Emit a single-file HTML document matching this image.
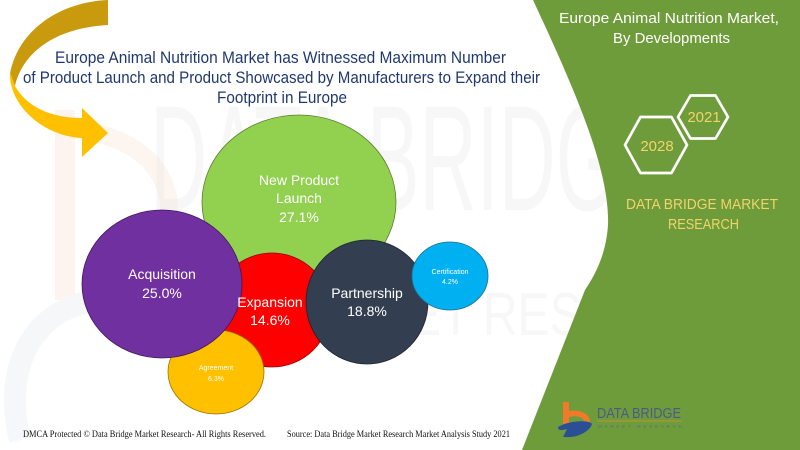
<!DOCTYPE html>
<html>
<head>
<meta charset="utf-8">
<style>
  html,body{margin:0;padding:0;background:#fff;}
  svg{display:block;}
  text{font-family:"Liberation Sans",sans-serif;}
</style>
</head>
<body>
<svg width="800" height="450" viewBox="0 0 800 450" xmlns="http://www.w3.org/2000/svg">
  <rect x="0" y="0" width="800" height="450" fill="#ffffff"/>

  <!-- faint watermark -->
  <g opacity="0.45">
    <path d="M55,110 L75,110 L75,300 L55,300 Z" fill="#fbe6dc"/>
    <path d="M75,130 C180,140 200,230 120,300" fill="none" stroke="#fbe9e0" stroke-width="18"/>
    <path d="M20,440 C0,360 40,300 110,300" fill="none" stroke="#e9eef3" stroke-width="22"/>
  </g>
  <g opacity="0.3">
    <text x="150" y="210" font-size="150" fill="#e6e6e6" textLength="520" lengthAdjust="spacingAndGlyphs">DATA BRIDGE</text>
    <text x="270" y="335" font-size="60" fill="#e8e8e8" textLength="480" lengthAdjust="spacingAndGlyphs">MARKET RESEARCH</text>
  </g>

  <!-- green right panel -->
  <path d="M533,0 C575,90 610,170 608,225 C606,255 595,275 585,290 L522,450 L800,450 L800,0 Z" fill="#6e9c3a"/>

  <!-- arrow -->
  <path d="M108,0 C60,2 18,30 10,74 L15,86 C22,55 52,28 108,25 Z" fill="#c99a0e"/>
  <path d="M10,72 C8,102 40,136 82,138 L82,157 L108,133 L82,108 L82,118 C50,118 26,106 15,86 Z" fill="#ffc000"/>

  <!-- title -->
  <g fill="#203870" font-size="17">
    <text x="55" y="63" textLength="451" lengthAdjust="spacingAndGlyphs">Europe Animal Nutrition Market has Witnessed Maximum Number</text>
    <text x="23" y="83" textLength="517" lengthAdjust="spacingAndGlyphs">of Product Launch and Product Showcased by Manufacturers to Expand their</text>
    <text x="217" y="103" textLength="130" lengthAdjust="spacingAndGlyphs">Footprint in Europe</text>
  </g>

  <!-- bubbles -->
  <ellipse cx="299" cy="202" rx="97" ry="87" fill="#92d050" stroke="#5b7f2e" stroke-width="0.8"/>
  <ellipse cx="272" cy="310" rx="58" ry="57" fill="#ff0000" stroke="#a00000" stroke-width="0.8"/>
  <ellipse cx="216" cy="372" rx="48" ry="42" fill="#ffc000" stroke="#9a7400" stroke-width="0.8"/>
  <ellipse cx="162" cy="284" rx="80" ry="74" fill="#7030a0" stroke="#40185e" stroke-width="0.8"/>
  <ellipse cx="367" cy="302" rx="61" ry="62" fill="#333f50" stroke="#1d2530" stroke-width="0.8"/>
  <ellipse cx="450" cy="276" rx="38" ry="34" fill="#00b0f0" stroke="#1d6f8e" stroke-width="0.8"/>

  <g fill="#ffffff" text-anchor="middle">
    <text x="299" y="185" font-size="14">New Product</text>
    <text x="299" y="203" font-size="14">Launch</text>
    <text x="299" y="222" font-size="14">27.1%</text>
    <text x="162" y="279" font-size="14">Acquisition</text>
    <text x="162" y="298" font-size="14">25.0%</text>
    <text x="270" y="307" font-size="14">Expansion</text>
    <text x="270" y="325" font-size="14">14.6%</text>
    <text x="367" y="298" font-size="14">Partnership</text>
    <text x="367" y="316" font-size="14">18.8%</text>
    <text x="450" y="274" font-size="7">Certification</text>
    <text x="450" y="284" font-size="7">4.2%</text>
    <text x="216" y="370" font-size="7">Agreement</text>
    <text x="216" y="381" font-size="7">6.3%</text>
  </g>

  <!-- right panel text -->
  <g fill="#ffffff" font-size="15">
    <text x="559" y="23" textLength="220" lengthAdjust="spacingAndGlyphs">Europe Animal Nutrition Market,</text>
    <text x="613" y="43" textLength="117" lengthAdjust="spacingAndGlyphs">By Developments</text>
  </g>

  <polygon points="678,117 690.5,95.5 715.5,95.5 728,117 715.5,138.5 690.5,138.5" fill="none" stroke="#ffffff" stroke-width="2.7" stroke-linejoin="round"/>
  <polygon points="625,145 640.5,117 671.5,117 687,145 671.5,173 640.5,173" fill="none" stroke="#ffffff" stroke-width="2.7" stroke-linejoin="round"/>
  <g fill="#f2d36b" font-size="15" text-anchor="middle">
    <text x="704" y="122">2021</text>
    <text x="657" y="151">2028</text>
  </g>
  <g fill="#f2d36b" font-size="15">
    <text x="626" y="209" textLength="152" lengthAdjust="spacingAndGlyphs">DATA BRIDGE MARKET</text>
    <text x="668" y="229" textLength="71" lengthAdjust="spacingAndGlyphs">RESEARCH</text>
  </g>

  <!-- logo -->
  <path d="M563,402 L569,402 L569,411 C580,409 590,414 590,422 L584,422 C584,417 577,415 569,417 L569,424 L563,424 Z" fill="#f07a2a"/>
  <path d="M558,427 C570,420 590,420 592,424 C590,431 578,438 566,437 L563,437 L567,429 C560,431 558,430 558,427 Z" fill="#2a4f96"/>
  <text x="597" y="418" font-size="15" fill="#4b5a8a" textLength="84" lengthAdjust="spacingAndGlyphs">DATA BRIDGE</text>
  <line x1="597" y1="421" x2="682" y2="421" stroke="#d98b3a" stroke-width="0.8"/>
  <text x="598" y="428" font-size="4.5" fill="#5a6a8a" textLength="84" lengthAdjust="spacing">MARKET RESEARCH</text>

  <!-- footer -->
  <g fill="#111111" font-size="9">
    <text x="23" y="437" textLength="243" lengthAdjust="spacingAndGlyphs" style="font-family:'Liberation Serif',serif">DMCA Protected © Data Bridge Market Research- All Rights Reserved.</text>
    <text x="287" y="437" textLength="223" lengthAdjust="spacingAndGlyphs" style="font-family:'Liberation Serif',serif">Source: Data Bridge Market Research Market Analysis Study 2021</text>
  </g>
</svg>
</body>
</html>
